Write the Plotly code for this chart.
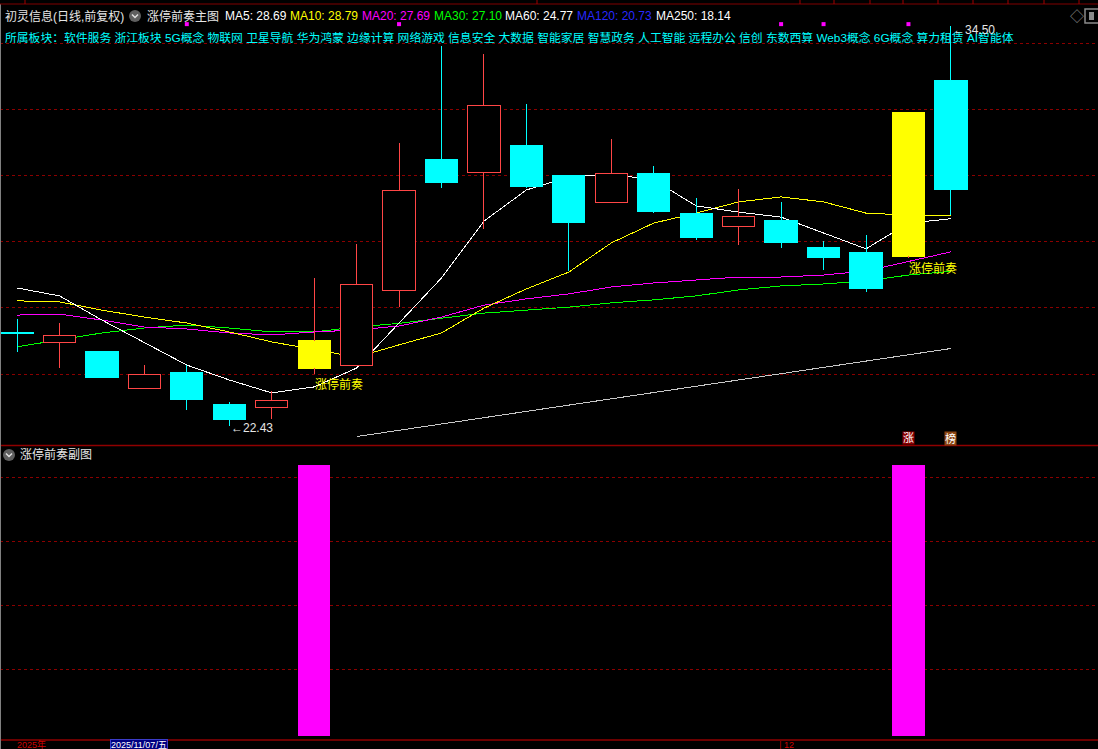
import datetime as _dt
import plotly.graph_objects as go

# ---------------- data ----------------
dates = ["2025-11-05", "2025-11-06", "2025-11-07", "2025-11-10", "2025-11-11",
         "2025-11-12", "2025-11-13", "2025-11-14", "2025-11-17", "2025-11-18",
         "2025-11-19", "2025-11-20", "2025-11-21", "2025-11-24", "2025-11-25",
         "2025-11-26", "2025-11-27", "2025-11-28", "2025-12-01", "2025-12-02",
         "2025-12-03", "2025-12-04", "2025-12-05"]
open_ = [25.25, 24.94, 24.69, 23.55, 24.06, 23.09, 23.00, 24.18, 24.27, 26.51,
         30.47, 30.10, 30.89, 30.01, 29.17, 30.07, 28.86, 28.47, 28.65, 27.81,
         27.66, 27.56, 32.88]
close = [25.23, 25.15, 23.88, 24.00, 23.24, 22.64, 23.21, 25.00, 26.69, 29.53,
         29.80, 32.10, 29.65, 28.59, 30.07, 28.92, 28.11, 28.77, 27.96, 27.53,
         26.57, 31.89, 29.56]
high = [25.66, 25.54, 24.69, 24.27, 24.27, 23.15, 23.49, 26.90, 27.93, 30.98,
        33.91, 33.67, 32.16, 30.01, 31.10, 30.28, 29.32, 29.59, 29.20, 28.02,
        28.20, 31.89, 34.50]
low = [24.66, 24.18, 23.88, 23.55, 22.91, 22.43, 22.64, 24.00, 24.27, 26.02,
       29.62, 28.38, 29.62, 27.11, 29.17, 28.86, 28.05, 27.90, 27.81, 27.14,
       26.48, 27.50, 28.80]
ma5 = [26.60, 26.36, 25.63, 24.94, 24.27, 23.82, 23.43, 23.61, 24.18, 25.54,
       26.90, 28.62, 29.56, 29.95, 30.04, 29.86, 29.08, 28.89, 28.74, 28.26,
       27.78, 28.56, 28.69]
ma10 = [26.21, 26.18, 25.93, 25.72, 25.54, 25.27, 24.97, 24.73, 24.51, 24.88,
        25.24, 25.99, 26.57, 27.08, 27.96, 28.56, 28.86, 29.20, 29.35, 29.20,
        28.86, 28.80, 28.79]
ma20 = [25.78, 25.81, 25.63, 25.42, 25.36, 25.24, 25.18, 25.27, 25.33, 25.45,
        25.72, 26.08, 26.27, 26.42, 26.63, 26.75, 26.84, 26.93, 26.93, 26.99,
        27.11, 27.41, 27.69]
ma30 = [24.82, 25.03, 25.24, 25.39, 25.48, 25.39, 25.27, 25.27, 25.42, 25.53,
        25.69, 25.84, 25.93, 26.02, 26.15, 26.24, 26.36, 26.54, 26.66, 26.72,
        26.81, 26.99, 27.10]
ma60 = [None, None, None, None, None, None, None, None,
        22.11, 22.30, 22.49, 22.67, 22.86, 23.05, 23.24, 23.43, 23.62, 23.81,
        24.00, 24.19, 24.39, 24.58, 24.77]
ma120_last = 20.73
ma250_last = 18.14
signal = [0, 0, 0, 0, 0, 0, 0, 1, 0, 0, 0, 0, 0, 0, 0, 0, 0, 0, 0, 0, 0, 1, 0]
top_marks = [0, 0, 0, 0, 1, 0, 0, 0, 0, 1, 0, 0, 0, 0, 0, 0, 0, 0, 1, 1, 0, 1, 0]
top_mark_level = 34.57
price_grid = [24, 26, 28, 30, 32, 34]
sub_grid = [0.244, 0.480, 0.716, 0.952]
sectors = ["软件服务", "浙江板块", "5G概念", "物联网", "卫星导航", "华为鸿蒙", "边缘计算",
           "网络游戏", "信息安全", "大数据", "智能家居", "智慧政务", "人工智能", "远程办公",
           "信创", "东数西算", "Web3概念", "6G概念", "算力租赁", "AI智能体"]
stock_title = "初灵信息(日线,前复权)"
main_title = "涨停前奏主图"
sub_title = "涨停前奏副图"
signal_label = "涨停前奏"
cursor_idx = 2
month_tick_idx = 18
zhang_idx, bang_idx = 21, 22

# ---------------- styles ----------------
W, H = 1098, 749
UP = "#FF4646"
DOWN = "#00FFFF"
SIG = "#FFFF00"
GRID = "#8B0000"
BODY_W = 0.76
CJK = "Liberation Sans, Noto Sans CJK SC, sans-serif"


def px(x):
    return x / W


def py(y):
    return 1 - y / H


n = len(dates)
idx = list(range(n))
x_range = [-17 / 42.45, (W - 17) / 42.45]
y_range = [24 - (445 - 374) / 33.1, 24 + (374 - 12) / 33.1]

fig = go.Figure()

# moving averages (base subplot, underneath the candles)
for vals, col in [(ma60, "#C8C8C8"), (ma30, "#00FF00"), (ma20, "#FF00FF"),
                  (ma10, "#FFFF00"), (ma5, "#FFFFFF")]:
    fig.add_trace(go.Scatter(x=idx, y=vals, mode="lines", line=dict(color=col, width=1),
                             xaxis="x", yaxis="y", hoverinfo="skip", showlegend=False))

# top marker squares
mx = [i for i in idx if top_marks[i]]
fig.add_trace(go.Scatter(x=mx, y=[top_mark_level] * len(mx), mode="markers",
                         marker=dict(symbol="square", size=4, color="#FF00FF"),
                         xaxis="x", yaxis="y", hoverinfo="skip", showlegend=False))

# wicks (split around the body)
wick = {UP: ([], []), DOWN: ([], [])}
for i in idx:
    up = close[i] >= open_[i]
    col = UP if up else DOWN
    top, bot = max(open_[i], close[i]), min(open_[i], close[i])
    xs, ys = wick[col]
    if high[i] > top:
        xs += [i, i, None]
        ys += [high[i], top, None]
    if low[i] < bot:
        xs += [i, i, None]
        ys += [bot, low[i], None]
for col, (xs, ys) in wick.items():
    fig.add_trace(go.Scatter(x=xs, y=ys, mode="lines", line=dict(color=col, width=1),
                             xaxis="x", yaxis="y3", hoverinfo="skip", showlegend=False))

# bodies
groups = {"up": [], "down": [], "sig": []}
for i in idx:
    if signal[i]:
        groups["sig"].append(i)
    elif close[i] > open_[i]:
        groups["up"].append(i)
    else:
        groups["down"].append(i)
style = {"up": ("#000000", UP), "down": (DOWN, DOWN), "sig": (SIG, SIG)}
for g, ii in groups.items():
    fill, line = style[g]
    fig.add_trace(go.Bar(
        x=ii,
        y=[max(abs(close[i] - open_[i]), 0.02) for i in ii],
        base=[min(open_[i], close[i]) for i in ii],
        width=BODY_W,
        marker=dict(color=fill, line=dict(color=line, width=1)),
        xaxis="x", yaxis="y3", hoverinfo="skip", showlegend=False))

# sub chart bars
fig.add_trace(go.Bar(x=idx, y=signal, width=BODY_W, marker=dict(color="#FF00FF", line=dict(width=0)),
                     xaxis="x2", yaxis="y2", hoverinfo="skip", showlegend=False))

ax_common = dict(showticklabels=False, zeroline=False, showline=False, ticks="")
fig.update_layout(
    width=W, height=H,
    margin=dict(l=0, r=0, t=0, b=0),
    paper_bgcolor="#000000", plot_bgcolor="#000000",
    barmode="overlay", hovermode=False, showlegend=False,
    xaxis=dict(domain=[0, 1], range=x_range, showgrid=False, anchor="y", **ax_common),
    xaxis2=dict(domain=[0, 1], range=x_range, showgrid=False, anchor="y2", matches="x", **ax_common),
    yaxis=dict(domain=[py(445), py(12)], range=y_range, tickvals=price_grid, showgrid=True,
               gridcolor=GRID, griddash="dot", gridwidth=1, anchor="x", **ax_common),
    yaxis3=dict(range=y_range, overlaying="y", showgrid=False, anchor="x", **ax_common),
    yaxis2=dict(domain=[py(736), py(447)], range=[0, 1.066], tickvals=sub_grid, showgrid=True,
                gridcolor=GRID, griddash="dot", gridwidth=1, anchor="x2", **ax_common),
)

shapes = []
# panel dividers and borders
shapes.append(dict(type="line", xref="paper", yref="paper", x0=0, x1=1, y0=py(445.5), y1=py(445.5),
                   line=dict(color="#900000", width=1.5)))
shapes.append(dict(type="line", xref="paper", yref="paper", x0=0, x1=1, y0=py(740), y1=py(740),
                   line=dict(color="#900000", width=1.5)))
shapes.append(dict(type="line", xref="paper", yref="paper", x0=px(0.5), x1=px(0.5), y0=0, y1=py(4),
                   line=dict(color="#808080", width=1)))
# month tick on the date axis
shapes.append(dict(type="line", xref="x", yref="paper", x0=month_tick_idx - 0.01, x1=month_tick_idx - 0.01,
                   y0=py(741), y1=0, line=dict(color="#900000", width=1)))
# top table strip
shapes.append(dict(type="line", xref="paper", yref="paper", x0=0, x1=1, y0=py(4), y1=py(4),
                   line=dict(color="#800000", width=1)))
for xv in [25, 537, 800, 834, 870, 903, 938, 973, 1008, 1044, 1079]:
    shapes.append(dict(type="line", xref="paper", yref="paper", x0=px(xv), x1=px(xv), y0=py(0), y1=py(4),
                       line=dict(color="#A00000", width=1)))


def circle_icon(cx, cy):
    r = 6
    out = [dict(type="circle", xref="paper", yref="paper", x0=px(cx - r), x1=px(cx + r),
                y0=py(cy + r), y1=py(cy - r), fillcolor="#5F5F5F", line=dict(width=0))]
    path = "M {} {} L {} {} L {} {}".format(px(cx - 3), py(cy - 1.5), px(cx), py(cy + 1.5),
                                           px(cx + 3), py(cy - 1.5))
    out.append(dict(type="path", xref="paper", yref="paper", path=path,
                    line=dict(color="#E0E0E0", width=1.5)))
    return out


shapes += circle_icon(135, 16)
shapes += circle_icon(9, 455)
# toggle icon at top right
shapes.append(dict(type="rect", xref="paper", yref="paper", x0=px(1085), x1=px(1100), y0=py(23), y1=py(9),
                   line=dict(color="#8A8A8A", width=1.5), fillcolor="#000000"))
shapes.append(dict(type="rect", xref="paper", yref="paper", x0=px(1089), x1=px(1094), y0=py(20), y1=py(12),
                   line=dict(width=0), fillcolor="#8A8A8A"))
fig.update_layout(shapes=shapes)

ann = []


def txt(x, y, s, color, size=12, **kw):
    d = dict(x=px(x), y=py(y), xref="paper", yref="paper", text=s, showarrow=False,
             xanchor="left", yanchor="middle", font=dict(color=color, size=size, family=CJK))
    d.update(kw)
    ann.append(d)


# header
txt(3, 16, stock_title, "#E6E6E6")
txt(145, 16, main_title, "#E6E6E6")
txt(223, 16, f"MA5: {ma5[-1]:.2f}", "#FFFFFF")
txt(288, 16, f"MA10: {ma10[-1]:.2f}", "#FFFF00")
txt(360, 16, f"MA20: {ma20[-1]:.2f}", "#FF00FF")
txt(432, 16, f"MA30: {ma30[-1]:.2f}", "#00FF00")
txt(503, 16, f"MA60: {ma60[-1]:.2f}", "#FFFFFF")
txt(575, 16, f"MA120: {ma120_last:.2f}", "#2828FF")
txt(654, 16, f"MA250: {ma250_last:.2f}", "#FFFFFF")
txt(1068, 16, "◇", "#8A8A8A", size=14)
# sectors
txt(3, 38, "所属板块：" + " ".join(sectors), "#00FFFF", size=11.8)

# price extremes
lo_i = min(idx, key=lambda i: low[i])
hi_i = max(idx, key=lambda i: high[i])
ann.append(dict(x=lo_i, y=low[lo_i], xref="x", yref="y", text=f"←{low[lo_i]:.2f}", showarrow=False,
                xanchor="left", yanchor="middle", yshift=-2,
                font=dict(color="#E6E6E6", size=12, family=CJK)))
ann.append(dict(x=hi_i, y=high[hi_i], xref="x", yref="y", text=f"←{high[hi_i]:.2f}", showarrow=False,
                xanchor="left", yanchor="middle", yshift=-4,
                font=dict(color="#E6E6E6", size=12, family=CJK)))
# signal labels
for i in idx:
    if signal[i]:
        ann.append(dict(x=i, y=low[i], xref="x", yref="y", text=signal_label, showarrow=False,
                        xanchor="left", yanchor="top", xshift=-1, yshift=-1,
                        font=dict(color="#FFFF00", size=12, family=CJK)))
# bottom badges
ann.append(dict(x=zhang_idx, y=py(438), xref="x", yref="paper", text="涨", showarrow=False,
                xanchor="center", yanchor="middle", bgcolor="#8B0000", borderpad=0,
                font=dict(color="#FFFFFF", size=11, family=CJK)))
ann.append(dict(x=bang_idx, y=py(438), xref="x", yref="paper", text="榜", showarrow=False,
                xanchor="center", yanchor="middle", bgcolor="#8B4513", borderpad=0,
                font=dict(color="#FFFFFF", size=11, family=CJK)))
# sub chart title
txt(18, 455, sub_title, "#E6E6E6")

# date axis
d0 = _dt.date.fromisoformat(dates[0])
txt(15, 744.5, f"{d0.year}年", "#D00000", size=9)
cd = _dt.date.fromisoformat(dates[cursor_idx])
wk = "一二三四五六日"[cd.weekday()]
ann.append(dict(x=px(110), y=py(744.8), xref="paper", yref="paper",
                text=f"{cd.year}/{cd.month:02d}/{cd.day:02d}/{wk}", showarrow=False,
                xanchor="left", yanchor="middle", bgcolor="#000080", bordercolor="#3C3CC8",
                borderwidth=1, borderpad=0, font=dict(color="#FFFFFF", size=9, family=CJK)))
md = _dt.date.fromisoformat(dates[month_tick_idx])
ann.append(dict(x=month_tick_idx, y=py(744.5), xref="x", yref="paper", text=f"{md.month}",
                showarrow=False, xanchor="left", yanchor="middle", xshift=1,
                font=dict(color="#D00000", size=9, family=CJK)))

fig.update_layout(annotations=ann)

post = ("document.body.style.margin='0px';document.body.style.overflow='hidden';"
        "document.querySelectorAll('.scatterlayer path.js-line, .barlayer path')"
        ".forEach(function(p){p.style.shapeRendering='crispEdges';});")
fig.write_html("out.html", post_script=post, config={"displayModeBar": False})
